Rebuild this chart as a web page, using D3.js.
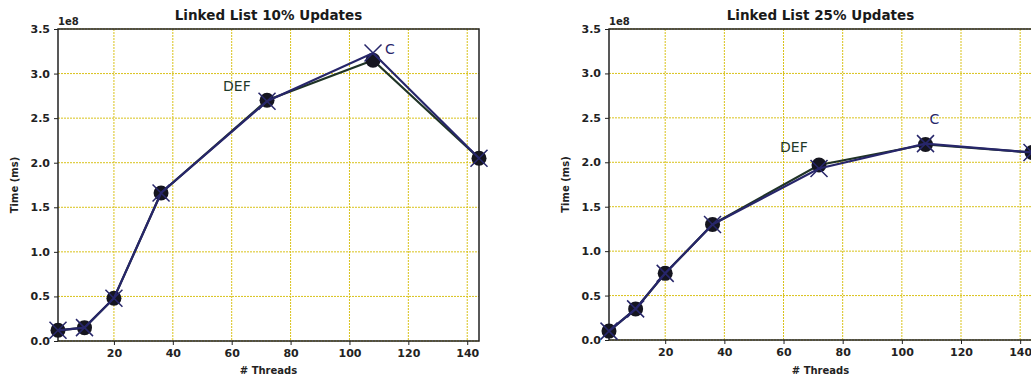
<!DOCTYPE html>
<html>
<head>
<meta charset="utf-8">
<script src="https://cdn.jsdelivr.net/npm/d3@7"></script>
<style>
  body { margin: 0; background: #fff; }
  text { font-family: "DejaVu Sans", sans-serif; fill: #222; }
</style>
</head>
<body>
<svg id="chart" width="1031" height="379"></svg>
<script>
const threads = [1, 10, 20, 36, 72, 108, 144];
const x_ticks = [20, 40, 60, 80, 100, 120, 140];
const y_ticks = [0, 0.5, 1.0, 1.5, 2.0, 2.5, 3.0, 3.5];

// values in units of 1e8 ms
const def_10 = [0.12, 0.15, 0.48, 1.66, 2.70, 3.15, 2.05];
const c_10 = [0.12, 0.15, 0.48, 1.66, 2.69, 3.23, 2.05];
const def_25 = [0.10, 0.35, 0.75, 1.30, 1.97, 2.20, 2.11];
const c_25 = [0.10, 0.35, 0.75, 1.30, 1.93, 2.21, 2.11];

const panels = [
  { title: "Linked List 10% Updates", def: def_10, c: c_10,
    box: { left: 58, right: 479, top: 29, bottom: 341 },
    def_label: { i: 4, dx: -44, dy: -9 }, c_label: { i: 5, dx: 12, dy: 1 } },
  { title: "Linked List 25% Updates", def: def_25, c: c_25,
    box: { left: 609, right: 1032, top: 29, bottom: 340 },
    def_label: { i: 4, dx: -39, dy: -13 }, c_label: { i: 5, dx: 4, dy: -20 } }
];

const grid_color = '#d9c21a';
const def_color = '#1f3326';
const c_color = '#27266a';

const svg = d3.select("svg#chart");

panels.forEach(p => {
  const b = p.box;
  const x = d3.scaleLinear([1, 144], [b.left, b.right]);
  const y = d3.scaleLinear([0, 3.5], [b.bottom, b.top]);
  const g = svg.append("g");

  // grid
  g.selectAll("line.vgrid")
    .data(x_ticks)
    .join("line")
    .attr("class", "vgrid")
    .attr("x1", d => x(d)).attr("x2", d => x(d))
    .attr("y1", b.top).attr("y2", b.bottom)
    .attr("stroke", grid_color)
    .attr("stroke-width", 1)
    .attr("stroke-dasharray", "2,1");
  g.selectAll("line.hgrid")
    .data(y_ticks)
    .join("line")
    .attr("class", "hgrid")
    .attr("x1", b.left).attr("x2", b.right)
    .attr("y1", d => y(d)).attr("y2", d => y(d))
    .attr("stroke", grid_color)
    .attr("stroke-width", 1)
    .attr("stroke-dasharray", "2,1");

  // axes
  const xa = g.append("g")
    .attr("transform", `translate(0,${b.bottom})`)
    .call(d3.axisBottom(x).tickValues(x_ticks).tickSize(4).tickPadding(4));
  const ya = g.append("g")
    .attr("transform", `translate(${b.left},0)`)
    .call(d3.axisLeft(y).tickValues(y_ticks).tickFormat(d3.format(".1f")).tickSize(4).tickPadding(4));
  [xa, ya].forEach(a => {
    a.select(".domain").remove();
    a.selectAll("text").attr("font-size", 11).attr("font-family", "DejaVu Sans").attr("fill", "#222").attr("font-weight", "bold");
    a.selectAll("line").attr("stroke", "#222");
  });

  g.append("rect")
    .attr("x", b.left).attr("y", b.top)
    .attr("width", b.right - b.left).attr("height", b.bottom - b.top)
    .attr("fill", "none")
    .attr("stroke", "#222")
    .attr("stroke-width", 1.5);

  // texts
  g.append("text")
    .attr("x", (b.left + b.right) / 2).attr("y", 20)
    .attr("text-anchor", "middle")
    .attr("font-size", 13.5)
    .attr("font-weight", "bold")
    .style("fill", "#1a1a1a")
    .text(p.title);
  g.append("text")
    .attr("x", b.left).attr("y", 25)
    .attr("font-size", 10)
    .attr("font-weight", "bold")
    .text("1e8");
  g.append("text")
    .attr("x", (b.left + b.right) / 2).attr("y", 374)
    .attr("text-anchor", "middle")
    .attr("font-size", 10)
    .attr("font-weight", "bold")
    .text("# Threads");
  const ymid = (b.top + b.bottom) / 2;
  g.append("text")
    .attr("transform", `translate(${b.left - 40},${ymid}) rotate(-90)`)
    .attr("text-anchor", "middle")
    .attr("font-size", 10)
    .attr("font-weight", "bold")
    .text("Time (ms)");

  const line = d3.line().x((d, i) => x(threads[i])).y(d => y(d));

  // DEF series
  g.append("path")
    .datum(p.def)
    .attr("d", line)
    .attr("fill", "none")
    .attr("stroke", def_color)
    .attr("stroke-width", 2.2);
  g.selectAll("circle.def")
    .data(p.def)
    .join("circle")
    .attr("class", "def")
    .attr("cx", (d, i) => x(threads[i]))
    .attr("cy", d => y(d))
    .attr("r", 7.5)
    .attr("fill", "#15151f");

  // C series
  g.append("path")
    .datum(p.c)
    .attr("d", line)
    .attr("fill", "none")
    .attr("stroke", c_color)
    .attr("stroke-width", 2.2);
  const s = 8.5;
  g.selectAll("path.cx")
    .data(p.c)
    .join("path")
    .attr("class", "cx")
    .attr("d", (d, i) => {
      const cx = x(threads[i]), cy = y(d);
      return `M${cx - s},${cy - s}L${cx + s},${cy + s}M${cx - s},${cy + s}L${cx + s},${cy - s}`;
    })
    .attr("stroke", c_color)
    .attr("stroke-width", 1.5)
    .attr("fill", "none");

  // labels
  const dl = p.def_label, cl = p.c_label;
  g.append("text")
    .attr("x", x(threads[dl.i]) + dl.dx)
    .attr("y", y(p.def[dl.i]) + dl.dy)
    .attr("font-size", 14)
    .style("fill", "#1f3a2a")
    .text("DEF");
  g.append("text")
    .attr("x", x(threads[cl.i]) + cl.dx)
    .attr("y", y(p.c[cl.i]) + cl.dy)
    .attr("font-size", 14)
    .style("fill", c_color)
    .text("C");
});
</script>
</body>
</html>
